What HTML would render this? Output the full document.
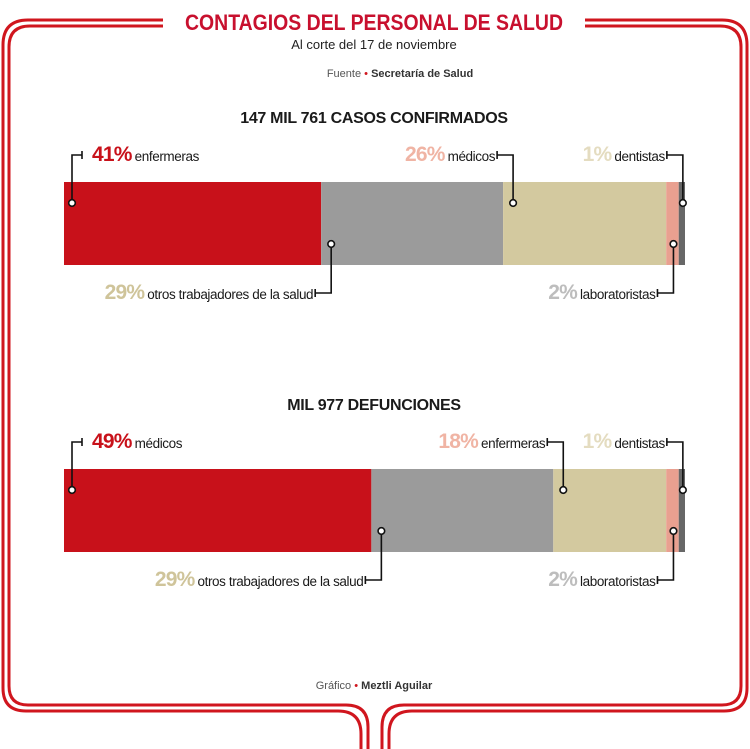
<!DOCTYPE html>
<html><head><meta charset="utf-8">
<style>
html,body{margin:0;padding:0;background:#fff;}
svg{display:block;font-family:"Liberation Sans",sans-serif;}
</style></head>
<body>
<svg id="chart" width="750" height="749" viewBox="0 0 750 749">
  <g fill="none" stroke="#d0161e" stroke-width="3">
    <path d="M163 20 H28 Q3 20 3 45 V688 Q3 711 26 711 H338 Q361 711 361 734 V749"/>
    <path d="M163 26 H30 Q9 26 9 47 V686 Q9 705 28 705 H346 Q368 705 368 727 V749"/>
    <path d="M585 20 H722 Q747 20 747 45 V688 Q747 711 724 711 H412 Q389 711 389 734 V749"/>
    <path d="M585 26 H720 Q741 26 741 47 V686 Q741 705 722 705 H404 Q382 705 382 727 V749"/>
  </g>
  <text x="374" y="30" text-anchor="middle" font-size="22" font-weight="bold" fill="#c8102e" textLength="378" lengthAdjust="spacingAndGlyphs">CONTAGIOS DEL PERSONAL DE SALUD</text>
  <text x="374" y="49" text-anchor="middle" font-size="13" fill="#222">Al corte del 17 de noviembre</text>
  <text x="400" y="77" text-anchor="middle" font-size="11" fill="#555">Fuente <tspan fill="#d0161e">•</tspan> <tspan font-weight="bold" fill="#333">Secretaría de Salud</tspan></text>
  <text x="374" y="689" text-anchor="middle" font-size="11" fill="#555">Gráfico <tspan fill="#d0161e">•</tspan> <tspan font-weight="bold" fill="#333">Meztli Aguilar</tspan></text>
  <g id="bars"></g>
</svg>
<script>
const titles = ["147 MIL 761 CASOS CONFIRMADOS", "MIL 977 DEFUNCIONES"];
const cat1 = ["enfermeras", "otros trabajadores de la salud", "médicos", "laboratoristas", "dentistas"];
const val1 = [41, 29, 26, 2, 1];
const cat2 = ["médicos", "otros trabajadores de la salud", "enfermeras", "laboratoristas", "dentistas"];
const val2 = [49, 29, 18, 2, 1];
const segColors = ["#c8111a", "#9b9b9b", "#d3c99f", "#e9a090", "#676767"];
const pctColors = ["#c8111a", "#cfc49a", "#f0b4a4", "#bdbdbd", "#e4dcc0"];

const NS = "http://www.w3.org/2000/svg";
const g = document.getElementById("bars");
const X0 = 64, X1 = 685;
function xs(v, total){ return X0 + (X1 - X0) * v / total; }
function mk(tag, attrs, parent){
  const e = document.createElementNS(NS, tag);
  for (const k in attrs) e.setAttribute(k, attrs[k]);
  (parent || g).appendChild(e);
  return e;
}
function drawChart(idx, cats, vals, top){
  const total = vals.reduce((a,b)=>a+b,0);
  const h = 83;
  const grp = mk("g", {});
  
  
  const t = mk("text", {x: 374, y: top - 59, "text-anchor": "middle", "font-size": 16, "font-weight": "bold", fill: "#1a1a1a", "letter-spacing": "-0.3"}, grp);
  t.textContent = titles[idx];
  
  
  let cum = 0;
  const mids = [];
  vals.forEach((v, i) => {
    const a = xs(cum, total), b = (i === vals.length - 1) ? X1 : xs(cum + v, total);
    const r = mk("rect", {x: a, y: top, width: Math.max(0, b - a), height: h, fill: segColors[i]}, grp);
    
    
    mids.push([a, b]);
    cum += v;
  });
  const cfg = [
    {i:0, cx: mids[0][0] + 8, up: true, left: true},
    {i:2, cx: mids[2][0] + 10, up: true},
    {i:4, cx: (mids[4][0] + mids[4][1]) / 2 + 1, up: true},
    {i:1, cx: mids[0][1] + 10, up: false},
    {i:3, cx: (mids[3][0] + mids[3][1]) / 2 + 1, up: false}
  ];
  cfg.forEach(c => {
    const lg = mk("g", {}, grp);
    
    
    const ly = c.up ? top - 27 : top + h + 28;
    const cy = c.up ? top + 21 : top + h - 21;
    const txt = mk("text", {y: ly + 6, "font-size": 13.5, fill: "#1a1a1a", "letter-spacing": "-0.4"}, lg);
    const p = mk("tspan", {"font-size": 21, "font-weight": "bold", fill: pctColors[c.i], "letter-spacing": "-0.8"}, txt);
    p.textContent = vals[c.i] + "%";
    const n = mk("tspan", {dx: 3}, txt);
    n.textContent = cats[c.i];
    if (c.left){
      txt.setAttribute("x", c.cx + 20);
      mk("path", {d: `M${c.cx} ${cy} V${ly} H${c.cx+10} M${c.cx+10} ${ly-4} V${ly+4}`, stroke:"#111", "stroke-width":1.6, fill:"none"}, lg);
    } else {
      const endX = c.cx - 16;
      txt.setAttribute("x", endX - 2);
      txt.setAttribute("text-anchor", "end");
      mk("path", {d: `M${c.cx} ${cy} V${ly} H${endX} M${endX} ${ly-4} V${ly+4}`, stroke:"#111", "stroke-width":1.6, fill:"none"}, lg);
    }
    mk("circle", {cx: c.cx, cy: cy, r: 3.3, fill: "#fff", stroke: "#111", "stroke-width": 1.6}, lg);
  });
}
drawChart(0, cat1, val1, 182);
drawChart(1, cat2, val2, 469);
</script>
</body></html>
